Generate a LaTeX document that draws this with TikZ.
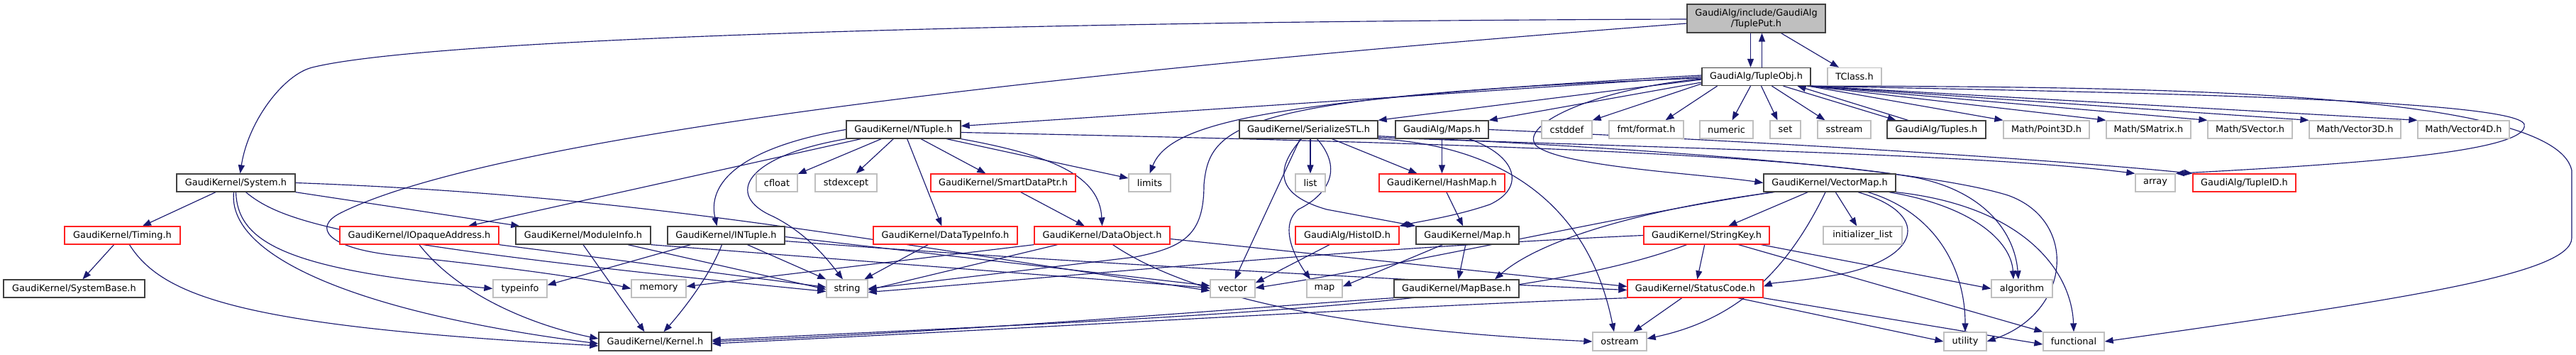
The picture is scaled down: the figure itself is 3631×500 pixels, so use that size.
\documentclass[tikz,border=0pt]{standalone}
\usepackage{fontspec}
\setmainfont{DejaVu Sans}
\usetikzlibrary{arrows.meta}
\definecolor{edgec}{HTML}{191970}
\definecolor{boxgrey}{HTML}{BFBFBF}
\definecolor{boxdark}{HTML}{404040}
\definecolor{boxred}{HTML}{FF2020}
\pgfdeclarelayer{bg}
\pgfsetlayers{bg,main}
\tikzset{
  nbase/.style={rectangle, minimum height=25pt, inner sep=0pt, font=\fontsize{12.9}{15}\selectfont, text=black, fill=white, line width=1.3pt},
  doc/.style={nbase, draw=boxdark},
  ext/.style={nbase, draw=boxgrey},
  trunc/.style={nbase, draw=boxred},
  rootnode/.style={nbase, draw=boxdark, fill=boxgrey, minimum height=40pt, align=center},
  dep/.style={draw=edgec, line width=1.15pt, -{Triangle[length=12pt,width=9pt]}},
}
\begin{document}
\begin{tikzpicture}[x=1pt,y=-1pt]
\useasboundingbox (0,0) rectangle (3631,500);
% row 0 / 1
\node[rootnode, minimum width=195pt] (tp) at (2475.5,26) {GaudiAlg/include/GaudiAlg\\/TuplePut.h};
\node[doc, minimum width=153pt] (to) at (2475.5,108) {GaudiAlg/TupleObj.h};
\node[ext, minimum width=76pt] (tcl) at (2614,108) {TClass.h};
% row 2
\node[doc, minimum width=161pt] (nt) at (1273.5,182.5) {GaudiKernel/NTuple.h};
\node[doc, minimum width=195pt] (ser) at (1844.5,182.5) {GaudiKernel/SerializeSTL.h};
\node[doc, minimum width=131pt] (maps) at (2032.5,182.5) {GaudiAlg/Maps.h};
\node[ext, minimum width=71pt] (csd) at (2208.5,182.5) {cstddef};
\node[ext, minimum width=105pt] (fmt) at (2320.5,182.5) {fmt/format.h};
\node[ext, minimum width=75pt] (num) at (2433.5,182.5) {numeric};
\node[ext, minimum width=43pt] (set) at (2516.5,182.5) {set};
\node[ext, minimum width=75pt] (sst) at (2599.5,182.5) {sstream};
\node[doc, minimum width=139pt] (tup) at (2729.5,182.5) {GaudiAlg/Tuples.h};
\node[ext, minimum width=121pt] (p3) at (2884.5,182.5) {Math/Point3D.h};
\node[ext, minimum width=119pt] (smx) at (3028.5,182.5) {Math/SMatrix.h};
\node[ext, minimum width=119pt] (svc) at (3171.5,182.5) {Math/SVector.h};
\node[ext, minimum width=129pt] (v3) at (3319.5,182.5) {Math/Vector3D.h};
\node[ext, minimum width=129pt] (v4) at (3472.5,182.5) {Math/Vector4D.h};
% row 3
\node[doc, minimum width=167pt] (sys) at (332.5,257.5) {GaudiKernel/System.h};
\node[ext, minimum width=58pt] (cf) at (1095,257.5) {cfloat};
\node[ext, minimum width=87pt] (se) at (1192.5,257.5) {stdexcept};
\node[trunc, minimum width=204pt] (sdp) at (1414,257.5) {GaudiKernel/SmartDataPtr.h};
\node[ext, minimum width=59pt] (lim) at (1620.5,257.5) {limits};
\node[ext, minimum width=42pt] (lst) at (1847,257.5) {list};
\node[trunc, minimum width=177pt] (hm) at (2032.5,257.5) {GaudiKernel/HashMap.h};
\node[doc, minimum width=186pt] (vm) at (2579,257.5) {GaudiKernel/VectorMap.h};
\node[ext, minimum width=56pt] (arr) at (3038,257.5) {array};
\node[trunc, minimum width=145pt] (tid) at (3163.5,257.5) {GaudiAlg/TupleID.h};
% row 4
\node[trunc, minimum width=163pt] (tim) at (172.5,331.5) {GaudiKernel/Timing.h};
\node[trunc, minimum width=224pt] (ioa) at (591,331.5) {GaudiKernel/IOpaqueAddress.h};
\node[doc, minimum width=190pt] (mi) at (822,331.5) {GaudiKernel/ModuleInfo.h};
\node[doc, minimum width=165pt] (int) at (1023.5,331.5) {GaudiKernel/INTuple.h};
\node[trunc, minimum width=203pt] (dti) at (1332.5,331.5) {GaudiKernel/DataTypeInfo.h};
\node[trunc, minimum width=191pt] (dob) at (1553.5,331.5) {GaudiKernel/DataObject.h};
\node[trunc, minimum width=146pt] (hid) at (1899,331.5) {GaudiAlg/HistoID.h};
\node[doc, minimum width=145pt] (mapH) at (2068.5,331.5) {GaudiKernel/Map.h};
\node[trunc, minimum width=177pt] (sk) at (2405.5,331.5) {GaudiKernel/StringKey.h};
\node[ext, minimum width=111pt] (il) at (2625.5,331.5) {initializer\_list};
% row 5
\node[doc, minimum width=199pt] (sb) at (104.5,406.5) {GaudiKernel/SystemBase.h};
\node[ext, minimum width=76pt] (ti) at (733,406.5) {typeinfo};
\node[ext, minimum width=77pt] (mem) at (928.5,406.5) {memory};
\node[ext, minimum width=58pt] (str) at (1194,406.5) {string};
\node[ext, minimum width=63pt] (vec) at (1737.5,406.5) {vector};
\node[ext, minimum width=50pt] (mp) at (1867,406.5) {map};
\node[doc, minimum width=176pt] (mb) at (2053,406.5) {GaudiKernel/MapBase.h};
\node[trunc, minimum width=191pt] (sc) at (2389.5,406.5) {GaudiKernel/StatusCode.h};
\node[ext, minimum width=86pt] (alg) at (2850,406.5) {algorithm};
% row 6
\node[doc, minimum width=159pt, minimum height=26pt] (ker) at (923.5,481) {GaudiKernel/Kernel.h};
\node[ext, minimum width=76pt, minimum height=26pt] (ost) at (2283,481) {ostream};
\node[ext, minimum width=60pt, minimum height=26pt] (ut) at (2770,481) {utility};
\node[ext, minimum width=86pt, minimum height=26pt] (fun) at (2923,481) {functional};

\begin{pgfonlayer}{bg}
% TuplePut
\path[dep] ([xshift=-8pt]tp.south) -- ([xshift=-8pt]to.north);
\path[dep] ([xshift=8pt]to.north) -- ([xshift=8pt]tp.south);
\path[dep] ([xshift=35pt]tp.south) -- (tcl);
\path[dep] ([yshift=-1pt]tp.west) .. controls (1400,30) and (600,55) .. (440,95) .. controls (400,105) and (350,170) .. ([xshift=6pt]sys.north);
\path[dep] ([yshift=-7pt]tp.west) .. controls (1500,100) and (700,190) .. (480,300) .. controls (440,320) and (460,350) .. (560,360) .. controls (700,375) and (820,390) .. (mem.west);
% TupleObj
\path[dep] (to.west) -- ([yshift=5pt]nt.east);
\path[dep] ([yshift=-4pt]to.west) -- (ser.north east);
\path[dep] ([yshift=-8pt]to.west) -- (maps.north east);
\path[dep] ([yshift=2pt]to.west) .. controls (1800,140) and (1650,170) .. (lim.north);
\path[dep] ([yshift=-2pt]to.west) .. controls (1745,135) and (1705,175) .. (1697,260) .. controls (1697,330) and (1670,348) .. (1600,362) .. controls (1450,380) and (1300,398) .. (str.east);
\path[dep] ([yshift=-10pt]to.west) -- (csd.north east);
\path[dep] ([xshift=-55pt]to.south) -- ([xshift=27pt]fmt.north);
\path[dep] ([xshift=-8pt]to.south) -- ([xshift=8pt]num.north);
\path[dep] ([xshift=7pt]to.south) -- ([xshift=-11pt]set.north);
\path[dep] ([xshift=22pt]to.south) -- ([xshift=-27pt]sst.north);
\path[dep] ([xshift=38pt]to.south) -- ([xshift=-57pt]tup.north);
\path[dep] ([xshift=-40pt]tup.north) -- ([xshift=58pt]to.south);
\path[dep] ([xshift=-4pt]to.south east) -- (p3.north west);
\path[dep] ([xshift=-3pt]to.south east) -- (smx.north west);
\path[dep] ([xshift=-2pt]to.south east) -- (svc.north west);
\path[dep] ([xshift=-1pt]to.south east) -- (v3.north west);
\path[dep] (to.south east) -- (v4.north west);
\path[dep] ([xshift=-6pt]to.south east) .. controls (3000,130) and (3545,140) .. (3558,175) .. controls (3568,215) and (3300,232) .. (arr.north east);
\path[dep] ([xshift=-5pt]to.south east) .. controls (3000,122) and (3600,125) .. (3625,240) -- (3625,335) .. controls (3625,385) and (3400,420) .. (fun.east);
\path[dep] ([yshift=-3pt]to.west) .. controls (2250,125) and (2140,175) .. (2165,205) .. controls (2200,235) and (2400,245) .. (vm.west);
% NTuple
\path[dep] (nt) -- (cf);
\path[dep] (nt) -- (se);
\path[dep] (nt) -- (sdp);
\path[dep] (nt) -- (lim);
\path[dep] (nt) -- (dti);
\path[dep] (nt.south east) .. controls (1490,220) and (1550,250) .. (dob.north);
\path[dep] (nt.west) .. controls (1060,205) and (995,250) .. ([xshift=-13pt]int.north);
\path[dep] (nt.south west) .. controls (1050,220) and (1020,275) .. (1090,305) .. controls (1140,330) and (1170,370) .. ([xshift=-6pt]str.north);
\path[dep] ([xshift=-60pt]nt.south) -- ([xshift=69pt]ioa.north);
\path[dep] ([yshift=-4pt]nt.east) .. controls (2000,200) and (2500,215) .. (2700,250) .. controls (2800,270) and (2840,330) .. ([xshift=-5pt]alg.north);
% DataObject etc.
\path[dep] (sdp) -- (dob);
\path[dep] (dti) -- (str);
\path[dep] ([xshift=-63pt]dob.south) -- ([yshift=-2pt]str.east);
\path[dep] (dob.south west) -- ([yshift=3pt]mem.east);
\path[dep] ([xshift=15pt]dob.south) .. controls (1680,420) and (1900,465) .. (ost.west);
\path[dep] ([yshift=-5pt]dob.east) -- ([yshift=3pt]sc.west);
% INTuple
\path[dep] ([xshift=-6pt]int.south) .. controls (1000,390) and (960,440) .. ([xshift=12pt]ker.north);
\path[dep] ([xshift=30pt]int.south) -- (str.north west);
\path[dep] ([xshift=-50pt]int.south) -- ([yshift=5pt]ti.east);
\path[dep] ([yshift=-2pt]int.east) -- ([yshift=4pt]vec.west);
\path[dep] ([yshift=-8pt]int.east) .. controls (1500,370) and (2000,395) .. ([yshift=-2pt]sc.west);
% ModuleInfo
\path[dep] (mi.south) -- ([xshift=-15pt]ker.north);
\path[dep] ([xshift=63pt]mi.south) -- ([yshift=-1pt]str.west);
\path[dep] (mi.south east) -- ([yshift=1pt]vec.west);
% System
\path[dep] (sys) -- (tim);
\path[dep] (sys.south east) -- ([xshift=6pt]mi.north west);
\path[dep] ([xshift=-3pt]sys.south) .. controls (320,360) and (500,440) .. ([yshift=-3pt]ker.west);
\path[dep] (sys.south) .. controls (335,340) and (400,380) .. (ti.west);
\path[dep] ([xshift=14pt]sys.south) .. controls (400,315) and (500,345) .. ([yshift=-4pt]str.west);
\path[dep] (sys.east) .. controls (900,275) and (1200,335) .. ([yshift=-3pt]vec.west);
% Timing, IOpaqueAddress
\path[dep] (tim) -- (sb);
\path[dep] ([xshift=10pt]tim.south) .. controls (230,420) and (350,460) .. ([yshift=-6pt]ker.west);
\path[dep] (ioa.south) .. controls (650,420) and (760,460) .. ([yshift=4pt]ker.west);
\path[dep] (ioa.south east) -- ([yshift=2pt]str.west);
% SerializeSTL
\path[dep] (ser.south -| lst.north) -- (lst.north);
\path[dep] ([xshift=33pt]ser.south) -- ([xshift=-35pt]hm.north);
\path[dep] ([xshift=-12pt]ser.south) -- ([xshift=3pt]vec.north);
\path[dep] ([xshift=12pt]ser.south) .. controls (1895,240) and (1870,275) .. (1830,295) .. controls (1800,320) and (1830,370) .. ([xshift=-20pt]mp.north);
\path[dep] ([xshift=-10pt]ser.south) .. controls (1795,240) and (1800,275) .. (1870,295) -- (mapH.north west);
\path[dep] (ser.south east) .. controls (2120,205) and (2240,290) .. ([xshift=-8pt]ost.north);
\path[dep] ([yshift=2pt]ser.south east) .. controls (2400,210) and (2800,218) .. (arr.north west);
\path[dep] ([yshift=4pt]ser.south east) .. controls (2300,208) and (2700,235) .. (2830,275) .. controls (2930,310) and (2920,440) .. (ut.east);
% Maps, HashMap, Map
\path[dep] (maps) -- (hm);
\path[dep] ([xshift=38pt]maps.south) .. controls (2140,220) and (2150,265) .. (2100,288) .. controls (2050,305) and (2000,312) .. (hid.north east);
\path[dep] (maps.east) .. controls (2500,200) and (2900,225) .. (tid.north west);
\path[dep] (hm) -- (mapH);
\path[dep] (mapH) -- (mb);
\path[dep] ([xshift=-35pt]mapH.south) -- ([yshift=3pt]mp.east);
\path[dep] ([xshift=-25pt]hid.south) -- ([yshift=8pt]vec.east);
% VectorMap
\path[dep] (vm) -- (sk);
\path[dep] (vm) -- (il);
\path[dep] ([xshift=-6pt]vm.south) .. controls (2520,380) and (2450,450) .. ([yshift=4pt]ost.east);
\path[dep] ([xshift=40pt]vm.south) .. controls (2720,300) and (2710,360) .. (2600,385) .. controls (2550,395) and (2500,398) .. ([yshift=3pt]sc.east);
\path[dep] ([xshift=54pt]vm.south) .. controls (2730,300) and (2770,380) .. (ut.north);
\path[dep] ([xshift=-10pt]vm.south east) .. controls (2780,290) and (2835,340) .. ([xshift=-12pt]alg.north);
\path[dep] (vm.south east) .. controls (2850,290) and (2920,380) .. (fun.north);
\path[dep] ([xshift=-80pt]vm.south) .. controls (2300,300) and (2000,370) .. ([yshift=1pt]vec.east);
\path[dep] ([xshift=-78pt]vm.south) .. controls (2350,290) and (2180,330) .. ([xshift=54pt]mb.north);
% StringKey
\path[dep] (sk) -- (sc);
\path[dep] ([xshift=77pt]sk.south) -- (alg.west);
\path[dep] ([xshift=45pt]sk.south) -- (fun.north west);
\path[dep] ([xshift=-28pt]sk.south) .. controls (2150,430) and (1700,445) .. ([yshift=2pt]ker.east);
\path[dep] (sk.west) .. controls (1900,350) and (1500,390) .. ([yshift=-5pt]str.east);
% StatusCode, MapBase
\path[dep] (sc) -- (ost);
\path[dep] ([xshift=60pt]sc.south) -- (ut.west);
\path[dep] (sc.south east) -- ([yshift=-4pt]fun.west);
\path[dep] (sc.south west) .. controls (2000,430) and (1500,460) .. ([yshift=-3pt]ker.east);
\path[dep] (mb.south west) .. controls (1800,430) and (1400,465) .. (ker.east);
\end{pgfonlayer}
\end{tikzpicture}
\end{document}
